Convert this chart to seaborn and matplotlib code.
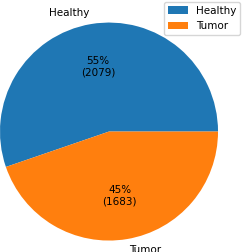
import matplotlib
matplotlib.use('Agg')
import matplotlib.pyplot as plt
import seaborn as sns

# class counts
labels = ['Healthy', 'Tumor']
counts = [2079, 1683]

colors = sns.color_palette('tab10', 2)
total = sum(counts)

def fmt(pct):
    n = int(round(pct * total / 100.0))
    return '{:.0f}%\n({:d})'.format(pct, n)

fig = plt.figure(figsize=(2.42, 2.52), dpi=100)
ax = fig.add_axes([0, 0, 1, 1])
wedges, texts, autotexts = ax.pie(counts, labels=labels, colors=colors, autopct=fmt,
                                  textprops={'fontsize': 7.5})
ax.set_aspect('auto')
ax.set_xlim(-1.0, 1.22)
ax.set_ylim(-1.105, 1.207)
ax.legend(wedges, labels, loc='upper right', bbox_to_anchor=(1.0, 1.0),
          bbox_transform=fig.transFigure, fontsize=7.5, handlelength=1.9,
          borderaxespad=0.15)
fig.savefig('out.png', dpi=100)
